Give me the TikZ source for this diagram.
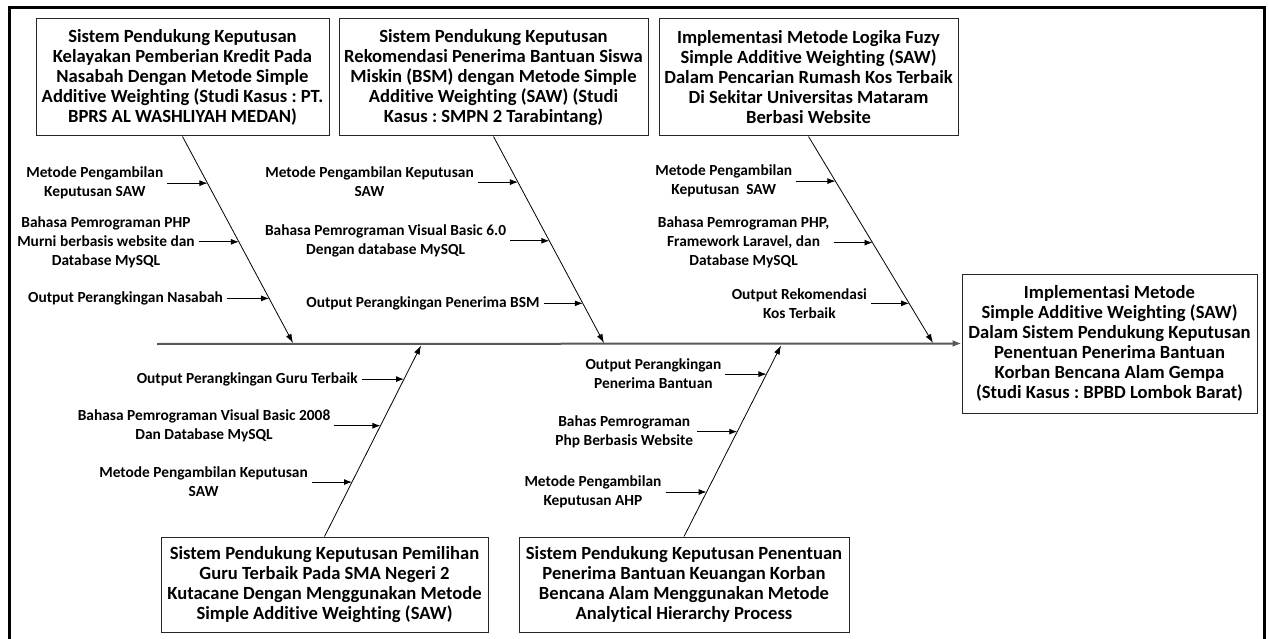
\documentclass[tikz,border=0pt]{standalone}
\usepackage{fontspec}
\setmainfont{Carlito}[Ligatures=NoCommon]
\usetikzlibrary{arrows.meta,calc}
\frenchspacing

\begin{document}
\begin{tikzpicture}[x=1pt,y=-1pt,
  box/.style={draw=black!85, line width=1pt, align=center, inner sep=0pt,
    font=\fontsize{18.6}{20}\selectfont\bfseries},
  lbl/.style={align=center, inner sep=4pt,
    font=\fontsize{15.4}{19}\selectfont\bfseries},
  rib/.style={line width=0.8pt, -{Latex[length=9pt,width=6pt]}},
  cause/.style={line width=0.9pt, -{Latex[length=8pt,width=6pt]}},
  spine/.style={line width=2pt, draw=black!65, -{Latex[length=9pt,width=7pt]}},
  frame/.style={line width=3pt}]

\useasboundingbox (0,0) rectangle (1269,639);

% open frame around the diagram
\draw[frame] (9,639) -- (9,7.5) -- (1264,7.5) -- (1264,639);

% category boxes
\node[box, minimum width=293, minimum height=117] (b1) at (182.5,77.5)
  {Sistem Pendukung Keputusan\\Kelayakan Pemberian Kredit Pada\\Nasabah Dengan Metode Simple\\Additive Weighting (Studi Kasus : PT.\\BPRS AL WASHLIYAH MEDAN)};
\node[box, minimum width=309, minimum height=117] (b2) at (493.5,77.5)
  {Sistem Pendukung Keputusan\\Rekomendasi Penerima Bantuan Siswa\\Miskin (BSM) dengan Metode Simple\\Additive Weighting (SAW) (Studi\\Kasus : SMPN 2 Tarabintang)};
\node[box, minimum width=299, minimum height=117] (b3) at (808.5,77.5)
  {Implementasi Metode Logika Fuzy\\Simple Additive Weighting (SAW)\\Dalam Pencarian Rumash Kos Terbaik\\Di Sekitar Universitas Mataram\\Berbasi Website};
\node[box, minimum width=327, minimum height=95] (b5) at (324.5,584.5)
  {Sistem Pendukung Keputusan Pemilihan\\Guru Terbaik Pada SMA Negeri 2\\Kutacane Dengan Menggunakan Metode\\Simple Additive Weighting (SAW)};
\node[box, minimum width=330, minimum height=95] (b6) at (684,584.5)
  {Sistem Pendukung Keputusan Penentuan\\Penerima Bantuan Keuangan Korban\\Bencana Alam Menggunakan Metode\\Analytical Hierarchy Process};

% effect box
\node[box, minimum width=295, minimum height=139] (eff) at (1109.5,343.5)
  {Implementasi Metode\\Simple Additive Weighting (SAW)\\Dalam Sistem Pendukung Keputusan\\Penentuan Penerima Bantuan\\Korban Bencana Alam Gempa\\(Studi Kasus : BPBD Lombok Barat)};

% spine
\coordinate (s0) at (157,344);
\draw[spine] (s0) -- (eff.west);

% ribs
\coordinate (t1) at (293,343);
\coordinate (t2) at (604,343);
\coordinate (t3) at (933,343);
\coordinate (t5) at (421,345.5);
\coordinate (t6) at (781,345.5);
\draw[rib] (b1.south) -- (t1);
\draw[rib] (b2.south) -- (t2);
\draw[rib] (b3.south) -- (t3);
\draw[rib] (b5.north) -- (t5);
\draw[rib] (b6.north) -- (t6);

% points where the causes meet the ribs
\coordinate (c11) at ($(b1.south)!0.226!(t1)$);
\coordinate (c12) at ($(b1.south)!0.510!(t1)$);
\coordinate (c13) at ($(b1.south)!0.784!(t1)$);
\coordinate (c21) at ($(b2.south)!0.221!(t2)$);
\coordinate (c22) at ($(b2.south)!0.505!(t2)$);
\coordinate (c23) at ($(b2.south)!0.808!(t2)$);
\coordinate (c31) at ($(b3.south)!0.216!(t3)$);
\coordinate (c32) at ($(b3.south)!0.514!(t3)$);
\coordinate (c33) at ($(b3.south)!0.808!(t3)$);
\coordinate (c51) at ($(b5.north)!0.824!(t5)$);
\coordinate (c52) at ($(b5.north)!0.580!(t5)$);
\coordinate (c53) at ($(b5.north)!0.285!(t5)$);
\coordinate (c61) at ($(b6.north)!0.850!(t6)$);
\coordinate (c62) at ($(b6.north)!0.549!(t6)$);
\coordinate (c63) at ($(b6.north)!0.233!(t6)$);

% causes
\node[lbl, anchor=east] (l11) at ([xshift=-40pt]c11) {Metode Pengambilan\\Keputusan SAW};
\node[lbl, anchor=east] (l12) at ([xshift=-40pt]c12) {Bahasa Pemrograman PHP\\Murni berbasis website dan\\Database MySQL};
\node[lbl, anchor=east] (l13) at ([xshift=-42pt]c13) {Output Perangkingan Nasabah};
\node[lbl, anchor=east] (l21) at ([xshift=-40pt]c21) {Metode Pengambilan Keputusan\\SAW};
\node[lbl, anchor=east] (l22) at ([xshift=-39pt]c22) {Bahasa Pemrograman Visual Basic 6.0\\Dengan database MySQL};
\node[lbl, anchor=east] (l23) at ([xshift=-39pt]c23) {Output Perangkingan Penerima BSM};
\node[lbl, anchor=east] (l31) at ([xshift=-39pt]c31) {Metode Pengambilan\\Keputusan~~SAW};
\node[lbl, anchor=east] (l32) at ([xshift=-39pt]c32) {Bahasa Pemrograman PHP,\\Framework Laravel, dan\\Database MySQL};
\node[lbl, anchor=east] (l33) at ([xshift=-38pt]c33) {Output Rekomendasi\\Kos Terbaik};
\node[lbl, anchor=east] (l51) at ([xshift=-42pt]c51) {Output Perangkingan Guru Terbaik};
\node[lbl, anchor=east] (l52) at ([xshift=-46pt]c52) {Bahasa Pemrograman Visual Basic 2008\\Dan Database MySQL};
\node[lbl, anchor=east] (l53) at ([xshift=-40pt]c53) {Metode Pengambilan Keputusan\\SAW};
\node[lbl, anchor=east] (l61) at ([xshift=-41pt]c61) {Output Perangkingan\\Penerima Bantuan};
\node[lbl, anchor=east] (l62) at ([xshift=-40pt]c62) {Bahas Pemrograman\\Php Berbasis Website};
\node[lbl, anchor=east] (l63) at ([xshift=-41pt]c63) {Metode Pengambilan\\Keputusan AHP};

\foreach \n in {11,12,13,21,22,23,31,32,33,51,52,53,61,62,63}
  \draw[cause] (l\n.east) -- (c\n);

\end{tikzpicture}
\end{document}
